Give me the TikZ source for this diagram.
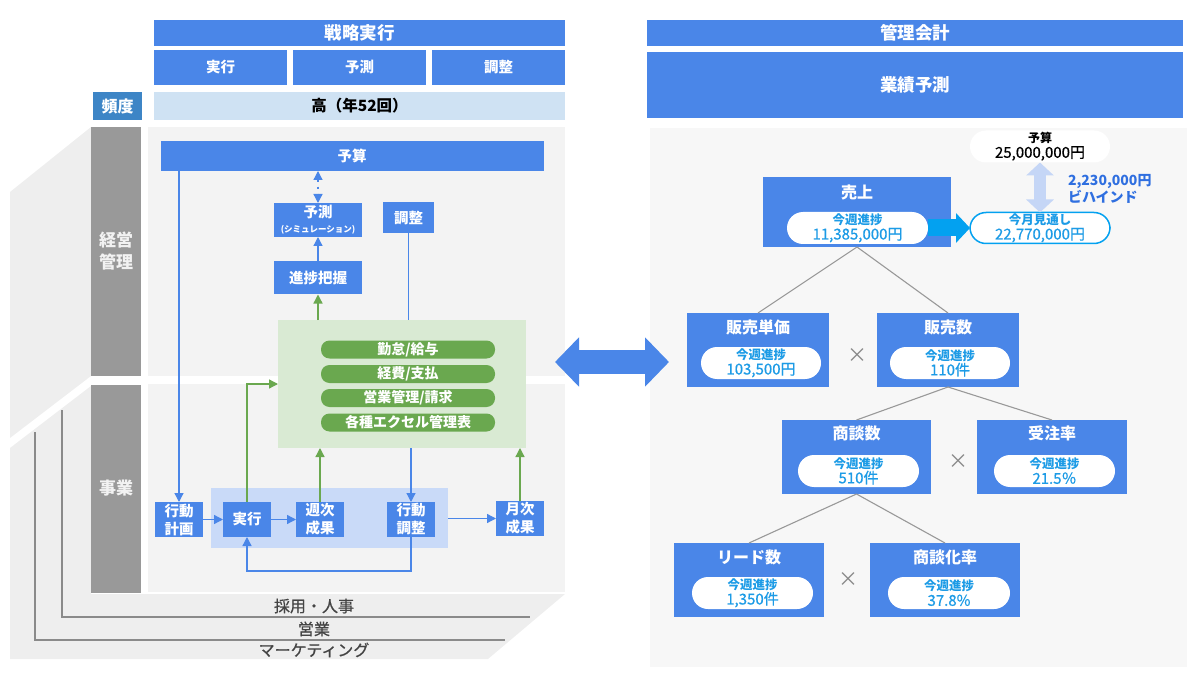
\documentclass[tikz,border=0pt]{standalone}
\usepackage{fontspec}
\setmainfont{Noto Sans CJK JP}
\newfontfamily\medfont{Noto Sans CJK JP}[FakeBold=0.6]
\usetikzlibrary{arrows.meta}
\definecolor{gblue}{HTML}{4A86E8}
\definecolor{hblue}{HTML}{3D85C6}
\definecolor{lbluec}{HTML}{CFE2F3}
\definecolor{pbluec}{HTML}{C9DAF8}
\definecolor{ggreen}{HTML}{6AA84F}
\definecolor{lgreenc}{HTML}{D9EAD3}
\definecolor{barg}{HTML}{999999}
\definecolor{barfont}{HTML}{F2F2F2}
\definecolor{panelc}{HTML}{F3F3F3}
\definecolor{backc}{HTML}{EEEEEE}
\definecolor{rpanelc}{HTML}{F7F7F7}
\definecolor{lgl}{HTML}{8A8A8A}
\definecolor{labtxt}{HTML}{444444}
\definecolor{pilltxt}{HTML}{1C9BE6}
\definecolor{cyanc}{HTML}{03A1F0}
\definecolor{behindc}{HTML}{2F6FE0}
\definecolor{ltarrowc}{HTML}{C5D6F6}
\definecolor{treeg}{HTML}{999999}
\definecolor{timesg}{HTML}{888888}
\newcommand\fsz[2]{\fontsize{#1}{#2}\selectfont}
\newcommand\pilltext[1]{{\bfseries\fsz{12.5}{14}今週進捗}\\{\medfont\fsz{15}{16}#1}}
\begin{document}
\begin{tikzpicture}[x=1pt,y=-1pt,
  every node/.style={inner sep=0pt, outer sep=0pt, align=center},
  wh/.style 2 args={minimum width=#1pt, minimum height=#2pt},
  bx/.style={fill=gblue, text=white, font=\bfseries\fsz{14.5}{16}},
  lbx/.style={bx, font=\bfseries\fsz{14.5}{18}, minimum width=48pt, minimum height=35pt},
  gbar/.style={fill=barg, text=barfont, font=\bfseries\fsz{17}{22}},
  gpill/.style={fill=ggreen, text=white, rounded corners=8.5pt, minimum width=174pt, minimum height=18pt, font=\bfseries\fsz{14}{16}},
  bline/.style={draw=gblue, line width=1.3pt},
  barrow/.style={bline, -{Triangle[length=9pt,width=9pt]}},
  gline/.style={draw=ggreen, line width=1.3pt},
  garrow/.style={gline, -{Triangle[length=9pt,width=9pt]}},
  dasharrow/.style={bline, dash pattern=on 2pt off 5pt, {Triangle[length=9pt,width=9pt]}-{Triangle[length=9pt,width=9pt]}},
  layerline/.style={draw=lgl, line width=1.2pt},
  layerlabel/.style={text=labtxt, font=\medfont\fsz{16}{18}},
  tbox/.style={fill=gblue},
  ttl/.style={text=white, font=\bfseries\fsz{16}{18}},
  wpill/.style={fill=white, rounded corners=16pt, text=pilltxt, font=\fsz{13}{15}},
  tree/.style={draw=treeg, line width=1.1pt},
  timesmark/.style={text=timesg, font=\fsz{20}{20}},
  fatarrow/.style={draw=cyanc, line width=17pt, -{Triangle[length=14pt,width=29pt]}},
  ltarrow/.style={draw=ltarrowc, line width=12pt, {Triangle[length=13pt,width=27pt]}-{Triangle[length=13pt,width=27pt]}},
  bigarrow/.style={draw=gblue, line width=24pt, {Triangle[length=24pt,width=48pt]}-{Triangle[length=24pt,width=48pt]}}
]
\useasboundingbox (0,0) rectangle (1200,679);

% ---------- header left
\node[bx, wh={411}{26}, font=\bfseries\fsz{17.5}{20}] (strat) at (359.5,33) {戦略実行};
\node[bx, wh={133}{35}] (hExec) at (220.5,67.5) {実行};
\node[bx, wh={133}{35}] (hPred) at (359.5,67.5) {予測};
\node[bx, wh={133}{35}] (hAdj) at (498.5,67.5) {調整};
\node[bx, fill=hblue, wh={49}{28}, font=\bfseries\fsz{16}{18}] (freq) at (117.5,106) {頻度};
\node[fill=lbluec, wh={411}{28}, text=black, font=\bfseries\fsz{15.5}{18}] (freqv) at (359.5,106) {高（年52回）};

% ---------- layers
\fill[backc] (91,127) -- (10,192) -- (10,438) -- (91,376) -- cycle;
\fill[backc] (91,386) -- (10,448) -- (10,659) -- (488,659) -- (565,594) -- (91,594) -- cycle;
\fill[panelc] (148,127) rectangle (565,376);
\fill[panelc] (148,384) rectangle (565,592);
\node[gbar, wh={50}{249}] (mgmt) at (116,251.5) {経営\\管理};
\node[gbar, wh={50}{208}] (biz) at (116,488.5) {事業};
\coordinate (hr1) at (62,410);
\coordinate (hr2) at (62,617);
\coordinate (hr3) at (530,617);
\coordinate (sl1) at (35,432);
\coordinate (sl2) at (35,640);
\coordinate (sl3) at (505,640);
\draw[layerline] (hr1) -- (hr2) -- (hr3);
\draw[layerline] (sl1) -- (sl2) -- (sl3);
\node[layerlabel] (lbHR) at (314,606) {採用・人事};
\node[layerlabel] (lbSales) at (314,629) {営業};
\node[layerlabel] (lbMkt) at (314,650) {マーケティング};

% ---------- upper panel
\node[bx, wh={383}{30}] (budget) at (352,156) {予算};
\node[bx, wh={88}{34}] (pred) at (318,220) {予測\\[-1pt]{\fsz{8.5}{9}(シミュレーション)}};
\node[bx, wh={51}{31}] (adj) at (408.5,218) {調整};
\node[bx, wh={88}{33}] (prog) at (318,278) {進捗把握};
\node[fill=lgreenc, wh={248}{128}] (sys) at (402,384) {};
\node[gpill] (p1) at (408,349.5) {勤怠/給与};
\node[gpill] (p2) at (408,374) {経費/支払};
\node[gpill] (p3) at (408,398) {営業管理/請求};
\node[gpill] (p4) at (408,422.5) {各種エクセル管理表};

% ---------- lower panel
\node[fill=pbluec, wh={237}{60}] (loop) at (329.5,518) {};
\node[lbx] (plan) at (179,519.5) {行動\\計画};
\node[lbx] (exec) at (247,519.5) {実行};
\node[lbx] (week) at (320,519.5) {週次\\成果};
\node[lbx] (act) at (411,519.5) {行動\\調整};
\node[lbx] (month) at (520,518.5) {月次\\成果};

% ---------- connectors left
\draw[dasharrow] (budget.south -| pred.north) -- (pred.north);
\draw[barrow] (prog.north) -- (pred.south);
\draw[garrow] (sys.north -| prog.south) -- (prog.south);
\draw[bline] (adj.south) -- (adj.south |- sys.north);
\draw[barrow] (budget.south -| plan.north) -- (plan.north);
\draw[barrow] (plan.east) -- (exec.west);
\draw[barrow] (exec.east) -- (week.west);
\draw[garrow] (exec.north) |- (sys.west);
\draw[garrow] (week.north) -- (week.north |- sys.south);
\draw[barrow] (sys.south -| act.north) -- (act.north);
\draw[garrow] (month.north) -- (month.north |- sys.south);
\draw[barrow] (loop.east |- month.west) -- (month.west);
\draw[barrow] (act.south) -- ++(0,34) -| (exec.south);

% ---------- right
\node[bx, wh={536}{26}, font=\bfseries\fsz{17.5}{20}] (acct) at (915,33) {管理会計};
\node[bx, wh={536}{66}, font=\bfseries\fsz{17.5}{20}] (fcst) at (915,85) {業績予測};
\fill[rpanelc] (650,128) rectangle (1187,667);

% ---------- middle arrow
\coordinate (dl) at (555,362);
\coordinate (dr) at (669,362);
\draw[bigarrow] (dl) -- (dr);

\node[wpill, wh={140}{32}, text=black] (bud) at (1040,146.5) {{\bfseries\fsz{12}{14}予算}\\{\medfont\fsz{15}{16}25,000,000円}};
\node[wpill, draw=cyanc, line width=1.5pt, wh={140}{31}] (outlook) at (1040,228) {{\bfseries\fsz{12.5}{14}今月見通し}\\{\medfont\fsz{15}{16}22,770,000円}};
\draw[ltarrow] (bud.south) -- (outlook.north);
\node[anchor=west, text=behindc, font=\bfseries\fsz{14}{15}, align=left] (gap) at (1068,189) {2,230,000円\\ビハインド};

\node[tbox, wh={188}{70}] (sales) at (857,212) {};
\node[ttl] (salesT) at (857,192) {売上};
\node[wpill, wh={141}{32}] (salesP) at (857.5,228) {\pilltext{11,385,000円}};
\draw[fatarrow] (salesP.east) -- (outlook.west);

\node[tbox, wh={142}{74}] (price) at (758,350) {};
\node[ttl] (priceT) at (758,327) {販売単価};
\node[wpill, wh={120}{32}] (priceP) at (761,363) {\pilltext{103,500円}};

\node[tbox, wh={142}{74}] (qty) at (948,350) {};
\node[ttl] (qtyT) at (948,327) {販売数};
\node[wpill, wh={120}{32}] (qtyP) at (950,363) {\pilltext{110件}};

\node[tbox, wh={149}{74}] (deal) at (856.5,457) {};
\node[ttl] (dealT) at (856.5,433) {商談数};
\node[wpill, wh={121}{32}] (dealP) at (858.5,471) {\pilltext{510件}};

\node[tbox, wh={150}{74}] (win) at (1052,457) {};
\node[ttl] (winT) at (1052,433) {受注率};
\node[wpill, wh={121}{32}] (winP) at (1054.5,471) {\pilltext{21.5％}};

\node[tbox, wh={150}{74}] (lead) at (749,580) {};
\node[ttl] (leadT) at (749,557) {リード数};
\node[wpill, wh={121}{32}] (leadP) at (752.5,593) {\pilltext{1,350件}};

\node[tbox, wh={150}{74}] (conv) at (945,580) {};
\node[ttl] (convT) at (945,557) {商談化率};
\node[wpill, wh={122}{32}] (convP) at (949,593) {\pilltext{37.8\%}};

\draw[tree] (sales.south) -- (price.north);
\draw[tree] (sales.south) -- (qty.north);
\draw[tree] (qty.south) -- (deal.north);
\draw[tree] (qty.south) -- (win.north);
\draw[tree] (deal.south) -- (lead.north);
\draw[tree] (deal.south) -- (conv.north);

\node[timesmark] (x1) at (857,356) {×};
\node[timesmark] (x2) at (958,462) {×};
\node[timesmark] (x3) at (848,580) {×};
\end{tikzpicture}
\end{document}
